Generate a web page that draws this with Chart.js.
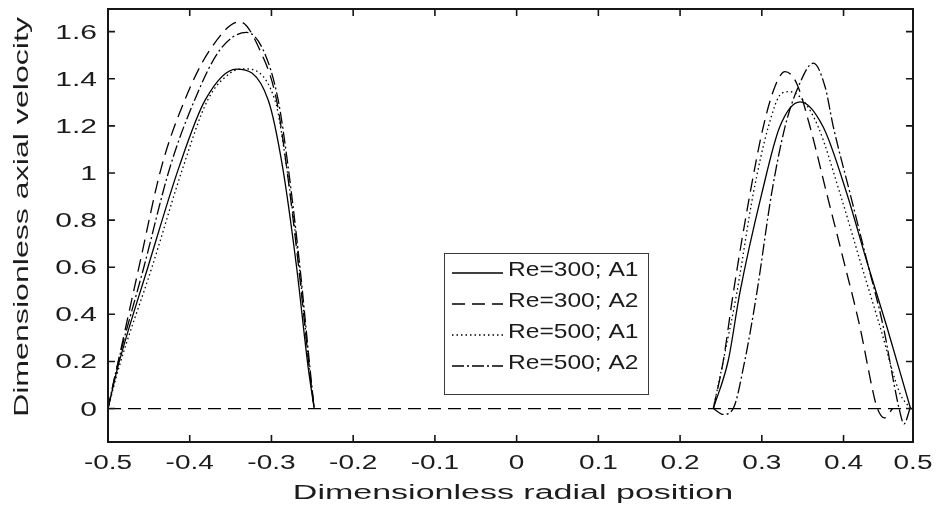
<!DOCTYPE html>
<html>
<head>
<meta charset="utf-8">
<script src="https://cdn.jsdelivr.net/npm/chart.js@4.4.0/dist/chart.umd.min.js"></script>
<style>
  html, body { margin: 0; padding: 0; background: #fff; }
  canvas { display: block; }
</style>
</head>
<body>
<canvas id="chart" width="936" height="510"></canvas>
<script>
// axis ticks (the "0.5" label sits on the right frame of the plot)
const xTicks = [-0.5, -0.4, -0.3, -0.2, -0.1, 0, 0.1, 0.2, 0.3, 0.4, 0.485]
const xTickLabels = ["-0.5", "-0.4", "-0.3", "-0.2", "-0.1", "0", "0.1", "0.2", "0.3", "0.4", "0.5"]
const yTicks = [0, 0.2, 0.4, 0.6, 0.8, 1, 1.2, 1.4, 1.6]
const yTickLabels = ["0", "0.2", "0.4", "0.6", "0.8", "1", "1.2", "1.4", "1.6"]

const seriesNames = ["Re=300; A1", "Re=300; A2", "Re=500; A1", "Re=500; A2"]

// dashed zero line across the whole width
const zeroLineX = [-0.5, 0.485]
const zeroLineY = [0, 0]

// Re=300; A1 (solid) - null splits the two channels
const re300a1X = [-0.5, -0.488, -0.451, -0.413, -0.381, -0.343, -0.304, -0.2864, -0.2693, -0.2551, -0.2477,
  0, 0.2407, 0.259, 0.273, 0.300, 0.322, 0.347, 0.375, 0.404, 0.428, 0.453, 0.482]
const re300a1Y = [0, 0.176, 0.602, 1.026, 1.31, 1.441, 1.31, 1.026, 0.602, 0.176, 0,
  null, 0, 0.205, 0.489, 0.913, 1.196, 1.302, 1.196, 0.913, 0.63, 0.347, 0]

// Re=300; A2 (dashed)
const re300a2X = [-0.5, -0.489, -0.462, -0.4345, -0.406, -0.3754, -0.3387, -0.3142, -0.2938, -0.2815, -0.2668, -0.2538, -0.2477,
  0, 0.2407, 0.253, 0.265, 0.2856, 0.3018, 0.316, 0.3284, 0.3427, 0.359, 0.3794, 0.40, 0.420, 0.4365, 0.4414, 0.450, 0.460]
const re300a2Y = [0, 0.176, 0.602, 1.026, 1.31, 1.522, 1.642, 1.522, 1.31, 1.026, 0.602, 0.176, 0,
  null, 0, 0.205, 0.489, 0.913, 1.196, 1.366, 1.43, 1.38, 1.196, 0.913, 0.63, 0.347, 0.064, 0, -0.04, 0]

// Re=500; A1 (dotted)
const re500a1X = [-0.5, -0.4865, -0.446, -0.408, -0.378, -0.35, -0.334, -0.2958, -0.2815, -0.266, -0.2538, -0.2477,
  0, 0.2407, 0.253, 0.2693, 0.2896, 0.308, 0.3243, 0.3345, 0.35, 0.369, 0.3957, 0.420, 0.4447, 0.469, 0.482]
const re500a1Y = [0, 0.176, 0.602, 1.026, 1.31, 1.425, 1.442, 1.31, 1.026, 0.602, 0.176, 0,
  null, 0, 0.205, 0.489, 0.913, 1.196, 1.338, 1.345, 1.31, 1.196, 0.913, 0.63, 0.347, 0.064, 0]

// Re=500; A2 (dash-dot)
const re500a2X = [-0.5, -0.489, -0.456, -0.424, -0.394, -0.3632, -0.3305, -0.3101, -0.2918, -0.2796, -0.2652, -0.2530, -0.2477,
  0, 0.2407, 0.253, 0.265, 0.279, 0.2938, 0.312, 0.3284, 0.3447, 0.363, 0.3774, 0.3875, 0.408, 0.4284, 0.4487, 0.462, 0.468, 0.474, 0.4814]
const re500a2Y = [0, 0.176, 0.602, 1.026, 1.31, 1.522, 1.597, 1.522, 1.31, 1.026, 0.602, 0.176, 0,
  null, 0, -0.025, 0, 0.2, 0.489, 0.913, 1.196, 1.366, 1.466, 1.366, 1.196, 0.913, 0.63, 0.347, 0.1, 0, -0.065, 0]

const FONT = '"Liberation Sans", Arial, sans-serif'

function points(xs, ys) {
  return xs.map((x, i) => ({ x: x, y: ys[i] }))
}

// the figure uses a wide, stretched font: draw text scaled along its baseline
function stretchText(ctx, str, x, y, size, sx, align, rot) {
  ctx.save()
  ctx.font = size + "px " + FONT
  ctx.textAlign = "left"
  ctx.textBaseline = "alphabetic"
  const w = ctx.measureText(str).width
  ctx.translate(x, y)
  if (rot) ctx.rotate(rot)
  ctx.scale(sx, 1)
  const off = align === "center" ? -w / 2 : align === "right" ? -w : 0
  ctx.fillText(str, off, 0)
  ctx.restore()
}

const frame = {
  id: "frame",
  afterDatasetsDraw(chart) {
    const { ctx, chartArea: a } = chart
    const x = chart.scales.x
    const y = chart.scales.y

    ctx.save()
    ctx.strokeStyle = "#161616"
    ctx.lineWidth = 2
    ctx.strokeRect(a.left, a.top, a.right - a.left, a.bottom - a.top)

    // inward ticks on all four sides
    ctx.lineWidth = 1.6
    ctx.beginPath()
    xTicks.forEach(v => {
      const px = x.getPixelForValue(v)
      ctx.moveTo(px, a.bottom); ctx.lineTo(px, a.bottom - 7)
      ctx.moveTo(px, a.top); ctx.lineTo(px, a.top + 7)
    })
    yTicks.forEach(v => {
      const py = y.getPixelForValue(v)
      ctx.moveTo(a.left, py); ctx.lineTo(a.left + 7, py)
      ctx.moveTo(a.right, py); ctx.lineTo(a.right - 7, py)
    })
    ctx.stroke()

    ctx.fillStyle = "#1c1c1c"
    xTicks.forEach((v, i) => stretchText(ctx, xTickLabels[i], x.getPixelForValue(v), 469, 20, 1.4, "center"))
    yTicks.forEach((v, i) => stretchText(ctx, yTickLabels[i], 97, y.getPixelForValue(v) + 7, 20, 1.5, "right"))

    stretchText(ctx, "Dimensionless radial position", 513, 499, 20, 1.7, "center")
    stretchText(ctx, "Dimensionless axial velocity", 28, 217, 21, 1.53, "center", -Math.PI / 2)

    // legend box inside the plot
    const box = { left: 444.5, top: 253.5, w: 204, h: 141 }
    ctx.fillStyle = "#fff"
    ctx.fillRect(box.left, box.top, box.w, box.h)
    ctx.strokeStyle = "#3a3a3a"
    ctx.lineWidth = 1
    ctx.strokeRect(box.left, box.top, box.w, box.h)

    const rows = [273, 304, 335, 366]
    chart.data.datasets.filter(ds => seriesNames.includes(ds.label)).forEach((ds, i) => {
      ctx.save()
      ctx.strokeStyle = ds.borderColor
      ctx.lineWidth = ds.borderWidth
      ctx.setLineDash(ds.borderDash)
      ctx.beginPath()
      ctx.moveTo(452, rows[i])
      ctx.lineTo(503, rows[i])
      ctx.stroke()
      ctx.restore()
      ctx.fillStyle = "#1c1c1c"
      stretchText(ctx, ds.label, 508, rows[i] + 3, 21, 1.17, "left")
    })
    ctx.restore()
  }
}

function line(label, xs, ys, dash) {
  return {
    label: label,
    data: points(xs, ys),
    showLine: true,
    borderColor: "#000",
    borderWidth: 1.3,
    borderDash: dash,
    pointRadius: 0,
    cubicInterpolationMode: "monotone",
    spanGaps: false
  }
}

new Chart(document.getElementById("chart"), {
  type: "scatter",
  data: {
    datasets: [
      line(seriesNames[0], re300a1X, re300a1Y, []),
      line(seriesNames[1], re300a2X, re300a2Y, [13, 7]),
      line(seriesNames[2], re500a1X, re500a1Y, [1.5, 3]),
      line(seriesNames[3], re500a2X, re500a2Y, [12, 3, 2, 3]),
      line("zero", zeroLineX, zeroLineY, [13, 7])
    ]
  },
  options: {
    responsive: false,
    animation: false,
    devicePixelRatio: 1,
    layout: { padding: { left: 108, right: 23, top: 9, bottom: 68 } },
    plugins: {
      legend: { display: false },
      tooltip: { enabled: false }
    },
    scales: {
      x: { type: "linear", min: -0.5, max: 0.485, display: false },
      y: { type: "linear", min: -0.142, max: 1.696, display: false }
    }
  },
  plugins: [frame]
})
</script>
</body>
</html>
